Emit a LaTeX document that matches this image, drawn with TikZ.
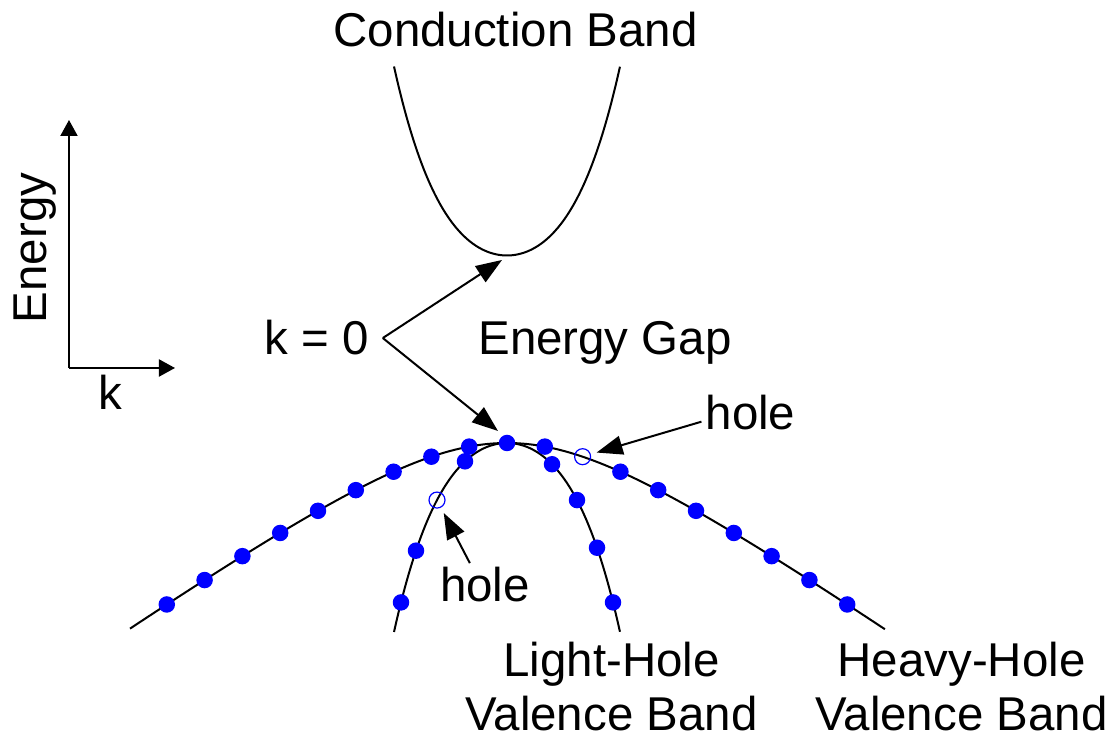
\documentclass[tikz,border=0pt]{standalone}
\usepackage{fontspec}
\setmainfont{Liberation Sans}
\usetikzlibrary{arrows.meta,calc}
\tikzset{
  band/.style={
    line width = 0.02cm,
    smooth,
    samples = 81
  },
  electron/.style={
    shape = circle,
    fill = blue,
    inner sep = 0,
    minimum size = 0.165cm
  },
  vacancy/.style={
    shape = circle,
    draw = blue,
    line width = 0.012cm,
    inner sep = 0,
    minimum size = 0.16cm
  },
  pointer/.style={
    line width = 0.02cm,
    shorten >= 0.06cm,
    -{Triangle[length=0.26cm,width=0.19cm]}
  },
  axis/.style={
    line width = 0.02cm,
    -{Triangle[length=0.16cm,width=0.17cm]}
  },
  every picture/.style = {
    font=\fontsize{13.5}{15.2}\selectfont
  }
}

\begin{document}
\begin{tikzpicture}[
    every node/.style={inner sep=1pt},
    declare function={
      hh(\x)=0.96-sqrt(0.9216+0.4932*(\x)*(\x));
      lh(\x)=-0.9684*(\x)*(\x)-0.4008*(\x)*(\x)*(\x)*(\x);
      cb(\x)=1.875+0.9684*(\x)*(\x)+0.4008*(\x)*(\x)*(\x)*(\x);
    }]
  \useasboundingbox (-5.07,-2.94) rectangle (6.11,4.43);

  % axes
  \coordinate (origin) at (-4.38,0.75);
  \coordinate (etop) at (-4.38,3.23);
  \coordinate (kend) at (-3.32,0.75);
  \draw[axis] (origin)--(etop);
  \draw[axis] (origin)--(kend);
  \node[rotate=90,anchor=base] (elabel) at (-4.60,1.95) {Energy};
  \node[anchor=base] (klabel) at (-3.97,0.33) {k};

  % bands
  \draw[band,domain=-1.13:1.13] plot (\x,{cb(\x)});
  \draw[band,domain=-3.77:3.78] plot (\x,{hh(\x)});
  \draw[band,domain=-1.13:1.13] plot (\x,{lh(\x)});

  \foreach \k in {-9,-8,-7,-6,-5,-4,-3,-2,-1,0,1,3,4,5,6,7,8,9}
    \node[electron] (hh\k) at ({0.378*\k},{hh(0.378*\k)}) {};
  \node[vacancy] (hhhole) at (0.756,{hh(0.756)}) {};
  \foreach \x [count=\i] in {-1.06,-0.91,-0.42,0.45,0.70,0.90,1.06}
    \node[electron] (lh\i) at (\x,{lh(\x)}) {};
  \node[vacancy] (lhhole) at (-0.70,{lh(-0.70)}) {};

  % labels
  \node[anchor=base] (cblabel) at (0.085,3.96) {Conduction Band};
  \node[anchor=base] (kzero) at (-1.905,0.88) {k = 0};
  \node[anchor=base] (gaplabel) at (0.98,0.88) {Energy Gap};
  \node[anchor=base] (holeA) at (2.435,0.13) {hole};
  \node[anchor=base] (holeB) at (-0.22,-1.587) {hole};
  \node[anchor=base,align=center] (lhlabel) at (1.045,-2.87) {Light-Hole\\Valence Band};
  \node[anchor=base,align=center] (hhlabel) at (4.545,-2.87) {Heavy-Hole\\Valence Band};

  % arrows
  \coordinate (fork) at ([xshift=0.1cm]kzero.east);
  \coordinate (cbmin) at (-0.05,1.83);
  \coordinate (vbmax) at (-0.09,0.12);
  \draw[pointer,shorten >=0] (fork)--(cbmin);
  \draw[pointer,shorten >=0] (fork)--(vbmax);
  \draw[pointer] (holeA.190)--(hhhole);
  \draw[pointer] (holeB.125)--(lhhole);
\end{tikzpicture}
\end{document}
